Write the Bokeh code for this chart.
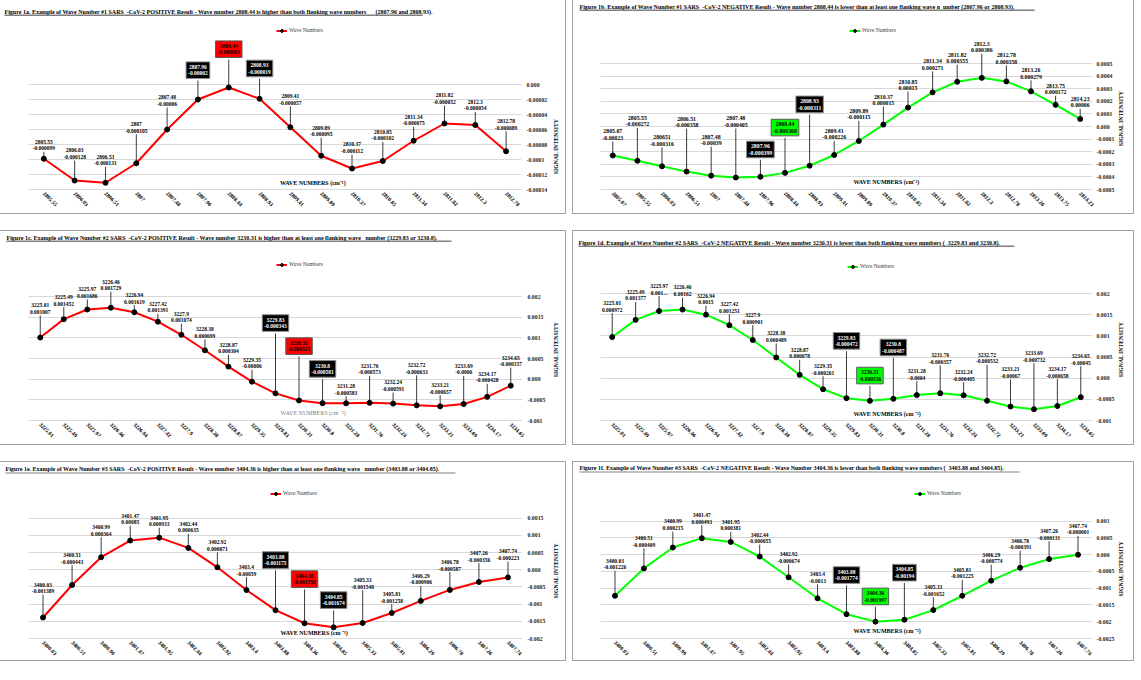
import re
import numpy as np
from bokeh.plotting import figure
from bokeh.models import Range1d, FixedTicker, Label, Legend, LegendItem, BoxAnnotation, LinearAxis
from bokeh.layouts import row, column
from bokeh.embed import file_html
from bokeh.resources import INLINE
from bokeh.core.properties import value

FONT = "Liberation Serif"

# ---------------- data ----------------
wave_1a = ["2805.55", "2806.03", "2806.51", "2807", "2807.48", "2807.96", "2808.44", "2808.93",
           "2809.41", "2809.89", "2810.37", "2810.85", "2811.34", "2811.82", "2812.3", "2812.78"]
intensity_1a = [-0.000099, -0.000128, -0.000131, -0.000105, -0.00006, -0.00002, -0.000004, -0.000019,
                -0.000057, -0.000095, -0.000112, -0.000102, -0.000075, -0.000052, -0.000054, -0.000089]

wave_1b = ["2805.07", "2805.55", "2806.03", "2806.51", "2807", "2807.48", "2807.96", "2808.44", "2808.93",
           "2809.41", "2809.89", "2810.37", "2810.85", "2811.34", "2811.82", "2812.3", "2812.78",
           "2813.26", "2813.75", "2814.23"]
intensity_1b = [-0.00023, -0.000272, -0.000316, -0.000358, -0.00039, -0.000405, -0.000399, -0.000368,
                -0.000311, -0.000226, -0.000115, 0.000015, 0.00015, 0.000271, 0.000355, 0.000386,
                0.000358, 0.000279, 0.000172, 0.00006]
label_names_1b = {2: "280651", 4: "2807.48"}

wave_1c = ["3225.01", "3225.49", "3225.97", "3226.46", "3226.94", "3227.42", "3227.9", "3228.38",
           "3228.87", "3229.35", "3229.83", "3230.31", "3230.8", "3231.28", "3231.76", "3232.24",
           "3232.72", "3233.21", "3233.69", "3234.17", "3234.65"]
intensity_1c = [0.001007, 0.001452, 0.001686, 0.001729, 0.001619, 0.001391, 0.001074, 0.000699,
                0.000304, -0.00006, -0.000343, -0.000515, -0.000581, -0.000583, -0.000573, -0.000591,
                -0.000633, -0.000657, -0.0006, -0.000428, -0.000157]

wave_1d = wave_1c
intensity_1d = [0.000972, 0.001377, 0.001586, 0.00162, 0.0015, 0.001251, 0.000901, 0.000489,
                0.000078, -0.000261, -0.000472, -0.000536, -0.000487, -0.0004, -0.000357, -0.000405,
                -0.000532, -0.00067, -0.000732, -0.000658, -0.00045]
label_values_1d = {2: "0.001..."}

wave_1e = ["3400.03", "3400.51", "3400.99", "3401.47", "3401.95", "3402.44", "3402.92", "3403.4",
           "3403.88", "3404.36", "3404.85", "3405.33", "3405.81", "3406.29", "3406.78", "3407.26", "3407.74"]
intensity_1e = [-0.001389, -0.000443, 0.000364, 0.00085, 0.000933, 0.000635, 0.000071, -0.00059,
                -0.001175, -0.001556, -0.001674, -0.001548, -0.001258, -0.000906, -0.000587, -0.000356,
                -0.000223]

wave_1f = wave_1e
intensity_1f = [-0.001226, -0.000409, 0.000215, 0.000493, 0.000381, -0.000055, -0.000674, -0.0013,
                -0.001774, -0.001997, -0.00194, -0.001652, -0.001225, -0.000774, -0.000391, -0.000131,
                -0.000001]

ticks_1a = [0.0, -0.00002, -0.00004, -0.00006, -0.00008, -0.0001, -0.00012, -0.00014]
tick_labels_1a = ["0.000", "-0.00002", "-0.00004", "-0.00006", "-0.00008", "-0.0001", "-0.00012", "-0.00014"]
ticks_1b = [0.0005, 0.0004, 0.0003, 0.0002, 0.0001, 0.0, -0.0001, -0.0002, -0.0003, -0.0004, -0.0005]
tick_labels_1b = ["0.0005", "0.0004", "0.0003", "0.0002", "0.0001", "0.000", "-0.0001", "-0.0002",
                  "-0.0003", "-0.0004", "-0.0005"]
ticks_1cd = [0.002, 0.0015, 0.001, 0.0005, 0.0, -0.0005, -0.001]
tick_labels_1cd = ["0.002", "0.0015", "0.001", "0.0005", "0.000", "-0.0005", "-0.001"]
ticks_1e = [0.0015, 0.001, 0.0005, 0.0, -0.0005, -0.001, -0.0015, -0.002]
tick_labels_1e = ["0.0015", "0.001", "0.0005", "0.000", "-0.0005", "-0.001", "-0.0015", "-0.002"]
ticks_1f = [0.001, 0.0005, 0.0, -0.0005, -0.001, -0.0015, -0.002, -0.0025]
tick_labels_1f = ["0.001", "0.0005", "0.000", "-0.0005", "-0.001", "-0.0015", "-0.002", "-0.0025"]

title_1a = "Figure 1a. Example of Wave Number #1 SARS  -CoV-2 POSITIVE Result - Wave number 2808.44 is higher than both flanking wave numbers      (2807.96 and 2808.93)."
title_1b = "Figure 1b. Example of Wave Number #1 SARS  -CoV-2 NEGATIVE Result - Wave number 2808.44 is lower than at least one flanking wave n  umber (2807.96 or 2808.93)."
title_1c = "Figure 1c. Example of Wave Number #2 SARS  -CoV-2 POSITIVE Result - Wave number 3230.31 is higher than at least one flanking wave   number (3229.83 or 3230.8)."
title_1d = "Figure 1d. Example of Wave Number #2 SARS  -CoV-2 NEGATIVE Result - Wave number 3230.31 is lower than both flanking wave numbers (  3229.83 and 3230.8)."
title_1e = "Figure 1e. Example of Wave Number #3 SARS  -CoV-2 POSITIVE Result - Wave number 3404.36 is higher than at least one flanking wave   number (3403.88 or 3404.85)."
title_1f = "Figure 1f. Example of Wave Number #3 SARS  -CoV-2 NEGATIVE Result - Wave Number 3404.36 is lower than both flanking wave numbers (  3403.88 and 3404.85)."

legend_label = "Wave Numbers"
x_title_a = "WAVE NUMBERS  (cm\u207b\u00b9)"
x_title_b = "WAVE NUMBERS (cm \u207b\u00b9)"
y_title = "SIGNAL INTENSITY"

# ---------------- layout (pixel positions of callouts etc.) ----------------
off_1a = [7, 20, 16, 29, 22, 19, 28, 20, 21, 18, 14, 19, 14, 18, 13, 20]
off_1b = [14, 33, 19, 43, 29, 49, 17, 35, 51, 14, 20, 18, 16, 21, 17, 24, 16, 11, 9, 10]
off_1c = [22, 12, 10, 16, 7, 8, 11, 11, 12, 12, 60, 44, 24, 7, 27, 11, 30, 11, 28, 13, 18]
off_1d = [24, 18, 15, 12, 9, 11, 15, 14, 15, 13, 47, 15, 41, 14, 28, 13, 36, 27, 46, 27, 31]
off_1e = [23, 20, 20, 15, 10, 14, 15, 13, 40, 34, 17, 33, 9, 15, 18, 19, 16]
off_1f = [25, 20, 16, 13, 10, 12, 13, 14, 29, 15, 37, 13, 16, 16, 17, 18, 19]

RED = "#ff0000"
GREEN = "#00ff00"
YT_SIZE = 5.8
YT_LEN = 57.6   # approx. pixel length of the rotated axis title


def fmt(v):
    return np.format_float_positional(v, trim="-")


def nb(s):
    return re.sub(r" {2,}", lambda m: "\u00a0" * len(m.group(0)), s)


def make_panel(c):
    waves, vals = c["waves"], c["vals"]
    n = len(waves)
    L, FW, R, H = c["L"], c["FW"], c["R"], c["H"]
    gt, gb = c["grid_px"]
    ticks = c["ticks"]
    ypp = (ticks[0] - ticks[-1]) / (gb - gt)
    FH = gb + 1
    y1 = ticks[0] + gt * ypp
    y0 = y1 - FH * ypp
    ppx = FW / n
    x0 = -0.5 - L / ppx

    def X(px):
        return x0 + px / ppx

    def Y(py):
        return float(y1 - py * ypp)

    p = figure(width=L + FW + R, height=H, min_border_left=0, min_border_right=R,
               min_border_top=0, min_border_bottom=H - FH,
               x_range=Range1d(x0, n - 0.5), y_range=Range1d(y0, y1),
               y_axis_location="right", output_backend="svg", toolbar_location=None)
    p.styles = {"outline": "1.5px solid #a0a0a0"}
    p.outline_line_color = None
    p.background_fill_color = "white"
    p.border_fill_color = "white"

    # grid (only across the category area)
    p.xgrid.visible = False
    p.ygrid.ticker = FixedTicker(ticks=ticks)
    p.ygrid.grid_line_color = "#d9d9d9"
    p.ygrid.grid_line_width = 1
    try:
        p.ygrid.cross_bounds = (-0.5, n - 0.5)
    except Exception:
        p.ygrid.visible = False
        p.segment(x0=[-0.5] * len(ticks), y0=ticks, x1=[n - 0.5] * len(ticks), y1=ticks,
                  line_color="#d9d9d9", line_width=1)

    # axes
    xax = p.xaxis[0]
    xax.ticker = FixedTicker(ticks=list(range(n)))
    xax.major_label_overrides = {i: w for i, w in enumerate(waves)}
    xax.major_label_orientation = -np.pi / 4
    xax.axis_line_color = None
    xax.major_tick_line_color = None
    xax.minor_tick_line_color = None
    xax.major_tick_out = 0
    xax.major_tick_in = 0
    xax.major_label_standoff = 2
    xax.major_label_text_font = FONT
    xax.major_label_text_font_style = "bold"
    xax.major_label_text_font_size = "5.6px"
    xax.major_label_text_color = "black"

    yax = p.yaxis[0]
    yax.ticker = FixedTicker(ticks=ticks)
    yax.major_label_overrides = dict(zip(ticks, c["tick_labels"]))
    yax.axis_line_color = None
    yax.major_tick_line_color = None
    yax.minor_tick_line_color = None
    yax.major_tick_out = 0
    yax.major_tick_in = 0
    yax.major_label_standoff = c["ys"]
    yax.major_label_text_font = FONT
    yax.major_label_text_font_style = "bold"
    yax.major_label_text_font_size = "5.8px"
    yax.major_label_text_color = "#262626"

    # axis title: an outer right axis whose single label reads bottom-to-top
    anchor = Y(c["yt_center"] + 0.5 * YT_LEN)
    ax2 = LinearAxis(ticker=FixedTicker(ticks=[anchor]), major_label_overrides={anchor: y_title},
                     major_label_orientation=np.pi / 2, axis_line_color=None,
                     major_tick_line_color=None, minor_tick_line_color=None,
                     major_tick_out=0, major_tick_in=0, minor_tick_out=0, minor_tick_in=0,
                     major_label_standoff=c["yt_standoff"], major_label_text_font=FONT,
                     major_label_text_font_style="bold", major_label_text_font_size=f"{YT_SIZE}px",
                     major_label_text_line_height=1.0, major_label_text_color="black")
    p.add_layout(ax2, "right")

    xs = list(range(n))
    tops = [v + o * ypp for v, o in zip(vals, c["offsets"])]
    names = [c.get("name_over", {}).get(i, w) for i, w in enumerate(waves)]
    vtxt = [c.get("val_over", {}).get(i, fmt(v)) for i, v in enumerate(vals)]
    texts = [a + "\n" + b for a, b in zip(names, vtxt)]

    r_line = p.line(xs, vals, line_color=c["color"], line_width=2)
    p.segment(x0=xs, y0=vals, x1=xs, y1=tops, line_color="#262626", line_width=0.9)
    r_pts = p.scatter(xs, vals, size=5, fill_color="black", line_color="black")

    fs = c.get("label_size", "5.5px")
    flank = c["flank"]
    target = c["target"]
    plain = [i for i in xs if i not in flank and i != target]
    common = dict(text_align="center", text_baseline="bottom", text_font=value(FONT),
                  text_font_style="bold", text_font_size=fs, text_line_height=1.1)
    p.text(x=[xs[i] for i in plain], y=[tops[i] + 0.5 * ypp for i in plain],
           text=[texts[i] for i in plain], text_color="black", **common)
    p.text(x=[xs[i] for i in flank], y=[tops[i] + 2 * ypp for i in flank],
           text=[texts[i] for i in flank], text_color="white", background_fill_color="black",
           border_line_color="#8c8c8c", border_line_width=1, padding=2, **common)
    p.text(x=[xs[target]], y=[tops[target] + 2 * ypp], text=[texts[target]],
           text_color="black", background_fill_color=c["box_color"],
           border_line_color="#595959", border_line_width=1, padding=2, **common)

    # title with underline
    tx, ty, tend = c["title_pos"]
    p.add_layout(Label(x=X(tx), y=Y(ty), text=nb(c["title"]), text_font=FONT, text_font_style="bold",
                       text_font_size="6px", text_align="left", text_baseline="middle",
                       text_color="black"))
    p.add_layout(BoxAnnotation(left=X(tx), right=X(tend), top=Y(ty + 3.2), bottom=Y(ty + 3.9),
                               fill_color="black", fill_alpha=1, line_color=None))

    # legend
    lx, ly = c["legend_pos"]
    leg = Legend(items=[LegendItem(label=legend_label, renderers=[r_line, r_pts])],
                 location=(lx, FH - ly - 3.5), padding=0, margin=0, spacing=0,
                 glyph_width=11, glyph_height=7, label_height=7, label_standoff=2,
                 label_text_font=FONT, label_text_font_size="5.5px", label_text_color="#404040",
                 background_fill_alpha=0, border_line_color=None)
    p.add_layout(leg)

    # x-axis title inside plot
    wx, wy = c["xt_pos"]
    p.add_layout(Label(x=X(wx), y=Y(wy), text=c["x_title"], text_font=FONT,
                       text_font_style=c.get("xt_style", "bold"), text_font_size="6px",
                       text_align="left", text_baseline="middle", text_color=c.get("xt_color", "black")))
    return p


LEFT = dict(L=28, FW=494, R=43, ys=5, yt_standoff=8)
RIGHT = dict(L=27, FW=492, R=41, ys=4, yt_standoff=4)

cfg_1a = dict(LEFT, H=213, waves=wave_1a, vals=intensity_1a, ticks=ticks_1a, tick_labels=tick_labels_1a,
              grid_px=(84, 189), offsets=off_1a, flank=[5, 7], target=6, color=RED, box_color=RED,
              title=title_1a, title_pos=(4, 11, 423), legend_pos=(276, 30), x_title=x_title_a,
              xt_pos=(280, 182), yt_center=145)
cfg_1a["yt_standoff"] = 6
cfg_1b = dict(RIGHT, H=213, waves=wave_1b, vals=intensity_1b, ticks=ticks_1b, tick_labels=tick_labels_1b,
              grid_px=(63, 189), offsets=off_1b, flank=[6, 8], target=7, color=GREEN, box_color=GREEN,
              name_over=label_names_1b, label_size="5.8px",
              title=title_1b, title_pos=(6, 6, 461), legend_pos=(276, 30), x_title=x_title_a,
              xt_pos=(280, 181), yt_center=117)
cfg_1c = dict(LEFT, H=213, waves=wave_1c, vals=intensity_1c, ticks=ticks_1cd, tick_labels=tick_labels_1cd,
              grid_px=(65, 189), offsets=off_1c, flank=[10, 12], target=11, color=RED, box_color=RED,
              title=title_1c, title_pos=(6, 6, 451), legend_pos=(276, 33), x_title=x_title_b,
              xt_pos=(280, 181), xt_color="#7f7f7f", xt_style="normal", yt_center=117)
cfg_1d = dict(RIGHT, H=213, waves=wave_1d, vals=intensity_1d, ticks=ticks_1cd, tick_labels=tick_labels_1cd,
              grid_px=(62, 189), offsets=off_1d, flank=[10, 12], target=11, color=GREEN, box_color=GREEN,
              val_over=label_values_1d,
              title=title_1d, title_pos=(5, 11, 441), legend_pos=(274, 35), x_title=x_title_b,
              xt_pos=(280, 182), yt_center=117)
cfg_1e = dict(LEFT, H=198, waves=wave_1e, vals=intensity_1e, ticks=ticks_1e, tick_labels=tick_labels_1e,
              grid_px=(56, 177), offsets=off_1e, flank=[8, 10], target=9, color=RED, box_color=RED,
              title=title_1e, title_pos=(5, 7, 455), legend_pos=(270, 32), x_title=x_title_b,
              xt_pos=(280, 171), yt_center=108)
cfg_1f = dict(RIGHT, H=198, waves=wave_1f, vals=intensity_1f, ticks=ticks_1f, tick_labels=tick_labels_1f,
              grid_px=(59, 177), offsets=off_1f, flank=[8, 10], target=9, color=GREEN, box_color=GREEN,
              title=title_1f, title_pos=(6, 6, 446), legend_pos=(341, 32), x_title=x_title_b,
              xt_pos=(280, 169), yt_center=106)

panels = [make_panel(c) for c in (cfg_1a, cfg_1b, cfg_1c, cfg_1d, cfg_1e, cfg_1f)]

layout = column(
    row(panels[0], panels[1], spacing=8),
    row(panels[2], panels[3], spacing=8),
    row(panels[4], panels[5], spacing=8),
    spacing=18,
)

open("out.html", "w").write(file_html(layout, INLINE, title="SARS-CoV-2 wave number figures"))
